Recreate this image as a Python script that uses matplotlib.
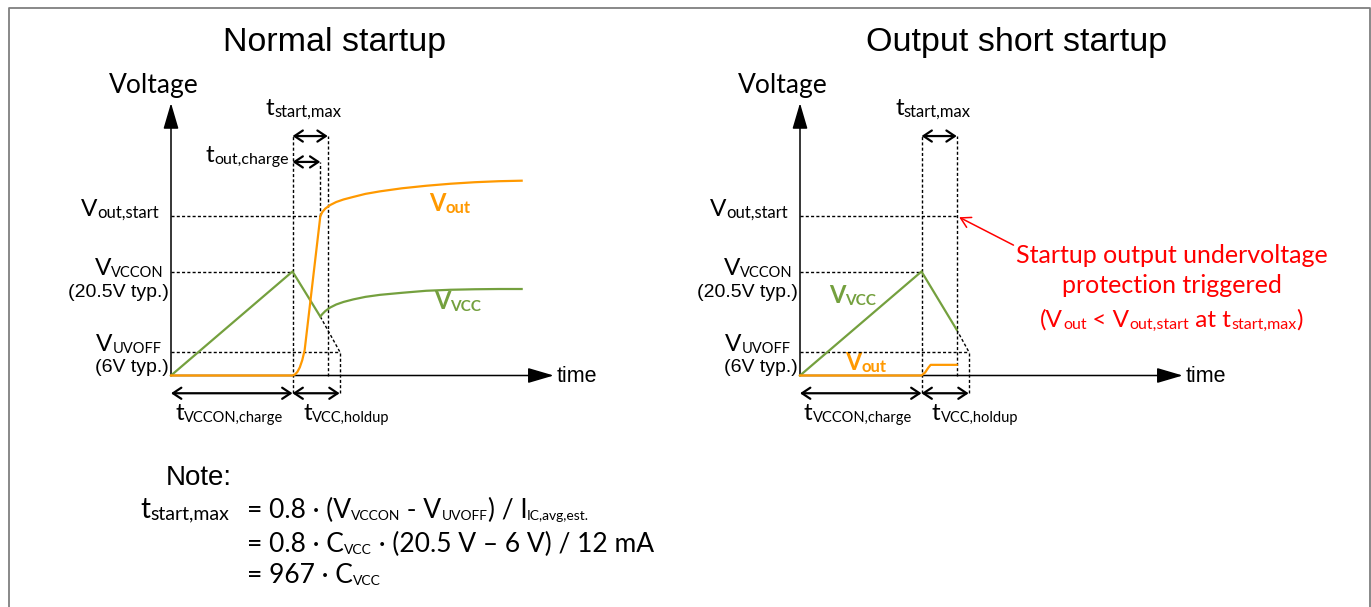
import matplotlib
matplotlib.use('Agg')
import matplotlib.pyplot as plt

W, H = 1371, 607
ORANGE = '#FF9900'
GREEN = '#74A03E'
RED = '#FF0000'
CAL = ['Lato', 'DejaVu Sans']        # stand-in for the Calibri labels
ARI = ['Liberation Sans', 'DejaVu Sans']

# levels in schematic units (time: t_VCCON,charge = 1, voltage: V_VCCON = 20.5)
V_VCCON = 20.5
V_UVOFF = 4.73
V_OUT_START = 31.4
V_TOP = 53.7
Y_TSTART = 47.2
Y_TOUT = 42.1
Y_BOTTOM = -3.5

T_CHARGE = 1.0
T_OUT_CHARGE = 1.229
T_START = 1.29
T_HOLDUP = 1.388
T_END = 3.15

# normal startup
vout_n_t = [0, 1.0, 1.02, 1.04, 1.06, 1.08, 1.10, 1.229, 1.245, 1.27, 1.31, 1.36, 1.42,
            1.5, 1.6, 1.72, 1.9, 2.1, 2.3, 2.5, 2.7, 2.886]
vout_n_v = [0, 0, 0.2, 0.7, 1.6, 3.0, 5.0, 31.4, 32.2, 32.9, 33.6, 34.2, 34.7,
            35.2, 35.8, 36.3, 36.9, 37.4, 37.8, 38.1, 38.3, 38.4]
vvcc_n_t = [0, 1.0, 1.229, 1.245, 1.27, 1.31, 1.36, 1.42, 1.5, 1.6, 1.72, 1.9, 2.1,
            2.3, 2.5, 2.7, 2.886]
vvcc_n_v = [0, 20.5, 11.6, 12.1, 12.7, 13.4, 14.0, 14.5, 15.0, 15.5, 15.9, 16.3, 16.7,
            16.9, 17.0, 17.05, 17.05]
# output short startup
vout_s_t = [0, 1.0, 1.03, 1.055, 1.075, 1.29]
vout_s_v = [0, 0, 0.6, 1.5, 2.1, 2.1]
vvcc_s_t = [0, 1.0, 1.29]
vvcc_s_v = [0, 20.5, 9.0]

PX_T = 121.5   # pixels per time unit
PX_V = 5.073   # pixels per volt unit
OY = 375.5     # time axis row (pixels from top)

fig = plt.figure(figsize=(W / 100, H / 100), dpi=100)
ax_t = fig.add_axes([0, 0, 1, 1])
ax_t.set_xlim(0, W)
ax_t.set_ylim(H, 0)
ax_t.axis('off')


def panel(ox):
    ax = fig.add_axes([0, 0, 1, 1])
    ax.set_xlim(-ox / PX_T, (W - ox) / PX_T)
    ax.set_ylim((OY - H) / PX_V, OY / PX_V)
    ax.axis('off')
    return ax


def dotted(ax, xs, ys):
    ax.plot(xs, ys, color='black', lw=1.0, linestyle=(0, (2.2, 1.6)), zorder=1)


def span(ax, t0, t1, v):
    ax.annotate('', xy=(t1, v), xytext=(t0, v),
                arrowprops=dict(arrowstyle='<->,head_length=6,head_width=4', mutation_scale=1,
                                lw=1.6, color='black', shrinkA=0, shrinkB=0))


def axes_arrows(ax):
    st = '-|>,head_length=16,head_width=4.7'
    ax.annotate('', xy=(0, V_TOP), xytext=(0, 0),
                arrowprops=dict(arrowstyle=st, mutation_scale=1, lw=1.1, color='black', shrinkA=0, shrinkB=0))
    ax.annotate('', xy=(T_END, 0), xytext=(0, 0),
                arrowprops=dict(arrowstyle=st, mutation_scale=1, lw=1.1, color='black', shrinkA=0, shrinkB=0))


def rich(x, y, parts, color='black', weight='normal', size=17.5, sub=10.5, family=CAL, dy=-1.2):
    # main text with subscripts, chained left to right on one baseline
    prev = None
    for txt, is_sub in parts:
        kw = dict(fontsize=sub if is_sub else size, color=color, fontweight=weight,
                  family=family, va='baseline', ha='left')
        if prev is None:
            prev = ax_t.text(x, y, txt, **kw)
        else:
            prev = ax_t.annotate(txt, xy=(1, y), xycoords=(prev, ax_t.transData),
                                 xytext=(0, dy if is_sub else 0), textcoords='offset points', **kw)
    return prev


def labels(ox):
    d = ox - 171
    rich(81 + d, 216, [('V', 0), ('out,start', 1)], sub=12)
    rich(95 + d, 275, [('V', 0), ('VCCON', 1)])
    ax_t.text(68 + d, 297, '(20.5V typ.)', fontsize=14, family=ARI, va='baseline')
    rich(96 + d, 351, [('V', 0), ('UVOFF', 1)])
    ax_t.text(95 + d, 372, '(6V typ.)', fontsize=14, family=ARI, va='baseline')
    rich(266 + d, 115, [('t', 0), ('start,max', 1)], sub=12)
    rich(175 + d, 420, [('t', 0), ('VCCON,charge', 1)])
    rich(303 + d, 420, [('t', 0), ('VCC,holdup', 1)])
    ax_t.text(109 + d, 93, 'Voltage', fontsize=19, family=CAL, va='baseline')
    ax_t.text(557 + d, 382, 'time', fontsize=15.5, family=ARI, va='baseline')


# ---- Normal startup ----
ax1 = panel(171)
axes_arrows(ax1)
dotted(ax1, [0, T_OUT_CHARGE], [V_OUT_START, V_OUT_START])
dotted(ax1, [0, T_CHARGE], [V_VCCON, V_VCCON])
dotted(ax1, [0, T_HOLDUP], [V_UVOFF, V_UVOFF])
dotted(ax1, [T_CHARGE, T_CHARGE], [Y_BOTTOM, Y_TSTART])
dotted(ax1, [T_START, T_START], [0, Y_TSTART])
dotted(ax1, [T_OUT_CHARGE, T_OUT_CHARGE], [V_OUT_START, Y_TOUT])
dotted(ax1, [T_HOLDUP, T_HOLDUP], [Y_BOTTOM, V_UVOFF])
dotted(ax1, [vvcc_n_t[2], T_HOLDUP], [vvcc_n_v[2], V_UVOFF])
ax1.plot(vvcc_n_t, vvcc_n_v, color=GREEN, lw=1.6, zorder=3, solid_joinstyle='miter')
ax1.plot(vout_n_t, vout_n_v, color=ORANGE, lw=1.6, zorder=4)
span(ax1, T_CHARGE, T_START, Y_TSTART)
span(ax1, T_CHARGE, T_OUT_CHARGE, Y_TOUT)
span(ax1, 0, T_CHARGE, Y_BOTTOM)
span(ax1, T_CHARGE, T_HOLDUP, Y_BOTTOM)

ax_t.text(335, 51, 'Normal startup', fontsize=24.5, family=ARI, ha='center', va='baseline')
labels(171)
rich(206, 162, [('t', 0), ('out,charge', 1)], sub=11.5)
rich(429, 211, [('V', 0), ('out', 1)], color=ORANGE, weight='bold', size=17, sub=12)
rich(434, 309, [('V', 0), ('VCC', 1)], color=GREEN, weight='bold', size=17, sub=11)

# ---- Output short startup ----
ax2 = panel(800)
axes_arrows(ax2)
dotted(ax2, [0, T_START], [V_OUT_START, V_OUT_START])
dotted(ax2, [0, T_CHARGE], [V_VCCON, V_VCCON])
dotted(ax2, [0, T_HOLDUP], [V_UVOFF, V_UVOFF])
dotted(ax2, [T_CHARGE, T_CHARGE], [Y_BOTTOM, Y_TSTART])
dotted(ax2, [T_START, T_START], [0, Y_TSTART])
dotted(ax2, [T_HOLDUP, T_HOLDUP], [Y_BOTTOM, V_UVOFF])
dotted(ax2, [vvcc_s_t[-1], T_HOLDUP], [vvcc_s_v[-1], V_UVOFF])
ax2.plot(vvcc_s_t, vvcc_s_v, color=GREEN, lw=1.6, zorder=3, solid_joinstyle='miter')
ax2.plot(vout_s_t, vout_s_v, color=ORANGE, lw=1.6, zorder=4)
span(ax2, T_CHARGE, T_START, Y_TSTART)
span(ax2, 0, T_CHARGE, Y_BOTTOM)
span(ax2, T_CHARGE, T_HOLDUP, Y_BOTTOM)
ax2.annotate('', xy=(T_START + 0.02, V_OUT_START - 0.2), xytext=(1.757, 25.7),
             arrowprops=dict(arrowstyle='->,head_length=7,head_width=4', mutation_scale=1,
                             lw=1.1, color=RED, shrinkA=0, shrinkB=0))

ax_t.text(1017, 51, 'Output short startup', fontsize=24.5, family=ARI, ha='center', va='baseline')
labels(800)
rich(829, 303, [('V', 0), ('VCC', 1)], color=GREEN, weight='bold', size=17, sub=11)
rich(845, 370, [('V', 0), ('out', 1)], color=ORANGE, weight='bold', size=17, sub=12)
ax_t.text(1172, 263, 'Startup output undervoltage', fontsize=18, family=CAL, color=RED,
          ha='center', va='baseline')
ax_t.text(1172, 293, 'protection triggered', fontsize=18, family=CAL, color=RED,
          ha='center', va='baseline')
rich(1040, 327, [('(V', 0), ('out', 1), (' < V', 0), ('out,start', 1), (' at t', 0),
                 ('start,max', 1), (')', 0)], color=RED, size=17.5, sub=11.5)

# ---- Note ----
ax_t.text(166, 485, 'Note:', fontsize=20, family=ARI, va='baseline')
rich(140, 518, [('t', 0), ('start,max', 1)], size=20, sub=14)
rich(247, 518, [('= 0.8 · (V', 0), ('VCCON', 1), (' - V', 0), ('UVOFF', 1), (') / I', 0),
                ('IC,avg,est.', 1)], size=19, sub=10)
rich(247, 552, [('= 0.8 · C', 0), ('VCC', 1), (' · (20.5 V – 6 V) / 12 mA', 0)], size=19, sub=10)
rich(247, 583, [('= 967 · C', 0), ('VCC', 1)], size=19, sub=10)

# frame
ax_t.plot([8.5, 8.5, 1369.5, 1369.5], [607, 7.5, 7.5, 607], color='#7F7F7F', lw=1.3, clip_on=False)

fig.savefig('out.png', dpi=100)
